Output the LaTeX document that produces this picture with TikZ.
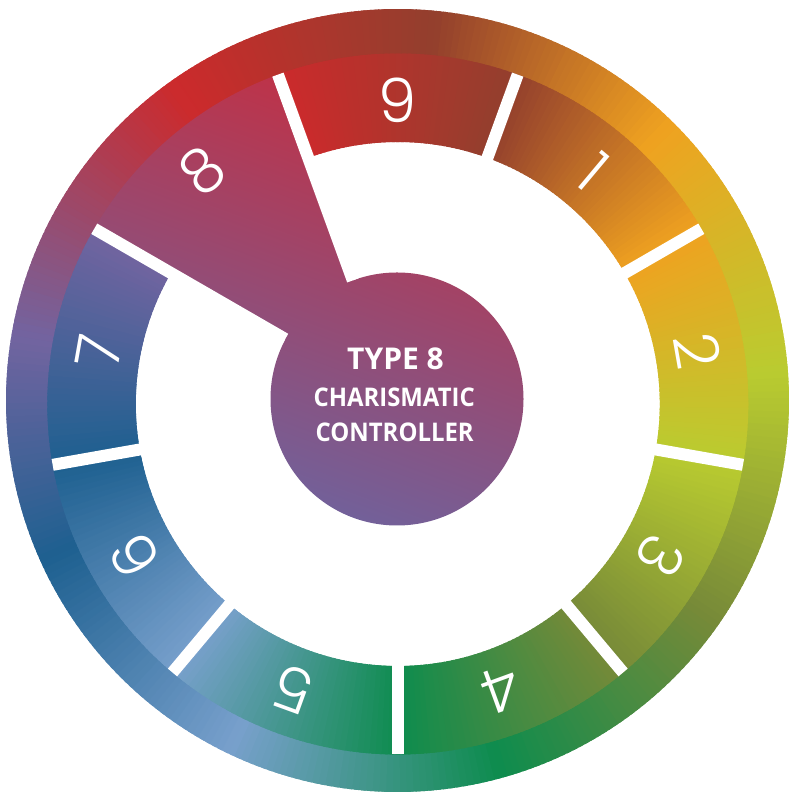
\documentclass[tikz,border=0pt]{standalone}
\usepackage{fontspec}
\setmainfont{Open Sans}
\IfFontExistsTF{Poppins Light}{\newfontfamily\digitfont{Poppins Light}}{\newfontfamily\digitfont{Poppins}}
\newfontfamily\titlefont{Open Sans}
\definecolor{cRed}{HTML}{CC2A2C}
\definecolor{cBrown}{HTML}{933F2D}
\definecolor{cOrange}{HTML}{EFA220}
\definecolor{cYG}{HTML}{BACC30}
\definecolor{cOlive}{HTML}{778A38}
\definecolor{cGreen}{HTML}{0E8C4E}
\definecolor{cLBlue}{HTML}{78A0CC}
\definecolor{cDBlue}{HTML}{1E6090}
\definecolor{cPurple}{HTML}{7264A0}
\definecolor{cTop}{HTML}{C23044}
\definecolor{cBot}{HTML}{6C64A0}
% conic band: #1 centre, #2 inner r, #3 outer r, #4 start angle, #5 end angle (smaller), #6 start colour, #7 end colour
\newcommand{\conicband}[7]{%
  \pgfmathsetmacro{\cspan}{(#4)-(#5)}%
  \pgfmathtruncatemacro{\cnum}{max(1,round(\cspan))}%
  \foreach \k in {1,...,\cnum}{%
    \pgfmathsetmacro{\cangA}{(#4)-(\k-1)*\cspan/\cnum+0.35}%
    \pgfmathsetmacro{\cangB}{(#4)-\k*\cspan/\cnum-0.35}%
    \pgfmathtruncatemacro{\cpct}{round(100*(\k-0.5)/\cnum)}%
    \fill[#7!\cpct!#6] ([shift={(\cangA:#3)}]#1) arc[start angle=\cangA, end angle=\cangB, radius=#3]
      -- ([shift={(\cangB:#2)}]#1) arc[start angle=\cangB, end angle=\cangA, radius=#2] -- cycle;
  }%
}
\tikzset{
  sepline/.style={white, line width=12pt},
  digitlabel/.style={text=white, font=\digitfont\fontsize{61}{66}\selectfont, inner sep=0pt},
  titletxt/.style={text=white, inner sep=0pt, anchor=base}
}
\begin{document}
\begin{tikzpicture}[x=1pt,y=1pt]
\useasboundingbox (0,0) rectangle (802,799);
\fill[white] (0,0) rectangle (802,799);
\coordinate (O) at (397.5,398.5);
\coordinate (S) at (397.8,395);
\coordinate (Cc) at (397,400);
% outer band
\conicband{O}{340}{391.5}{125}{84}{cRed}{cBrown}
\conicband{O}{340}{391.5}{84}{45}{cBrown}{cOrange}
\conicband{O}{340}{391.5}{45}{4}{cOrange}{cYG}
\conicband{O}{340}{391.5}{4}{-35}{cYG}{cOlive}
\conicband{O}{340}{391.5}{-35}{-75}{cOlive}{cGreen}
\conicband{O}{340}{391.5}{-75}{-116}{cGreen}{cLBlue}
\conicband{O}{340}{391.5}{-116}{-156}{cLBlue}{cDBlue}
\conicband{O}{340}{391.5}{-156}{-190}{cDBlue}{cPurple}
\conicband{O}{340}{391.5}{-190}{-235}{cPurple}{cRed}
% inner white
\fill[white] (S) circle[radius=263];
% segments
\conicband{S}{262}{350.5}{110}{70}{cRed}{cBrown}
\conicband{S}{262}{350.5}{70}{30}{cBrown}{cOrange}
\conicband{S}{262}{350.5}{30}{-10}{cOrange}{cYG}
\conicband{S}{262}{350.5}{-10}{-50}{cYG}{cOlive}
\conicband{S}{262}{350.5}{-50}{-90}{cOlive}{cGreen}
\conicband{S}{262}{350.5}{-90}{-130}{cGreen}{cLBlue}
\conicband{S}{262}{350.5}{-130}{-170}{cLBlue}{cDBlue}
\conicband{S}{262}{350.5}{-170}{-210}{cDBlue}{cPurple}
% segment 8 wedge and centre disc
\shade[top color=cTop, bottom color=cBot, shading angle=-20]
  (S) -- ([shift={(110:350.5)}]S) arc[start angle=110, end angle=150, radius=350.5] -- cycle
  (Cc) circle[radius=126.5];
% separators
\foreach \a in {70,30,-10,-50,-90,-130,-170}{
  \draw[sepline] ([shift={(\a:250)}]S) -- ([shift={(\a:350.5)}]S);
}
\draw[sepline] ([shift={(110:131.5)}]S) -- ([shift={(110:350.5)}]S);
\draw[sepline] ([shift={(150:130)}]S) -- ([shift={(150:350.5)}]S);
% digits
\node[digitlabel, rotate=0]    (n9) at ([shift={(90:304)}]S) {9};
\node[digitlabel, rotate=-40]  (n1) at ([shift={(50:304)}]S) {1};
\node[digitlabel, rotate=-80]  (n2) at ([shift={(10:304)}]S) {2};
\node[digitlabel, rotate=-120] (n3) at ([shift={(-30:304)}]S) {3};
\node[digitlabel, rotate=-160] (n4) at ([shift={(-70:304)}]S) {4};
\node[digitlabel, rotate=-200] (n5) at ([shift={(-110:304)}]S) {5};
\node[digitlabel, rotate=-240] (n6) at ([shift={(-150:304)}]S) {6};
\node[digitlabel, rotate=80]   (n7) at ([shift={(170:304)}]S) {7};
\node[digitlabel, rotate=40]   (n8) at ([shift={(130:304)}]S) {8};
% centre text
\node[titletxt, font=\titlefont\bfseries\fontsize{30}{32}\selectfont] (t1) at (395.5,429) {TYPE 8};
\node[titletxt, font=\titlefont\bfseries\fontsize{25.7}{28}\selectfont] (t2) at (394.2,392.3) {\scalebox{0.93}[1]{CHARISMATIC}};
\node[titletxt, font=\titlefont\bfseries\fontsize{25.7}{28}\selectfont] (t3) at (394.7,357.3) {\scalebox{0.93}[1]{CONTROLLER}};
\end{tikzpicture}
\end{document}
